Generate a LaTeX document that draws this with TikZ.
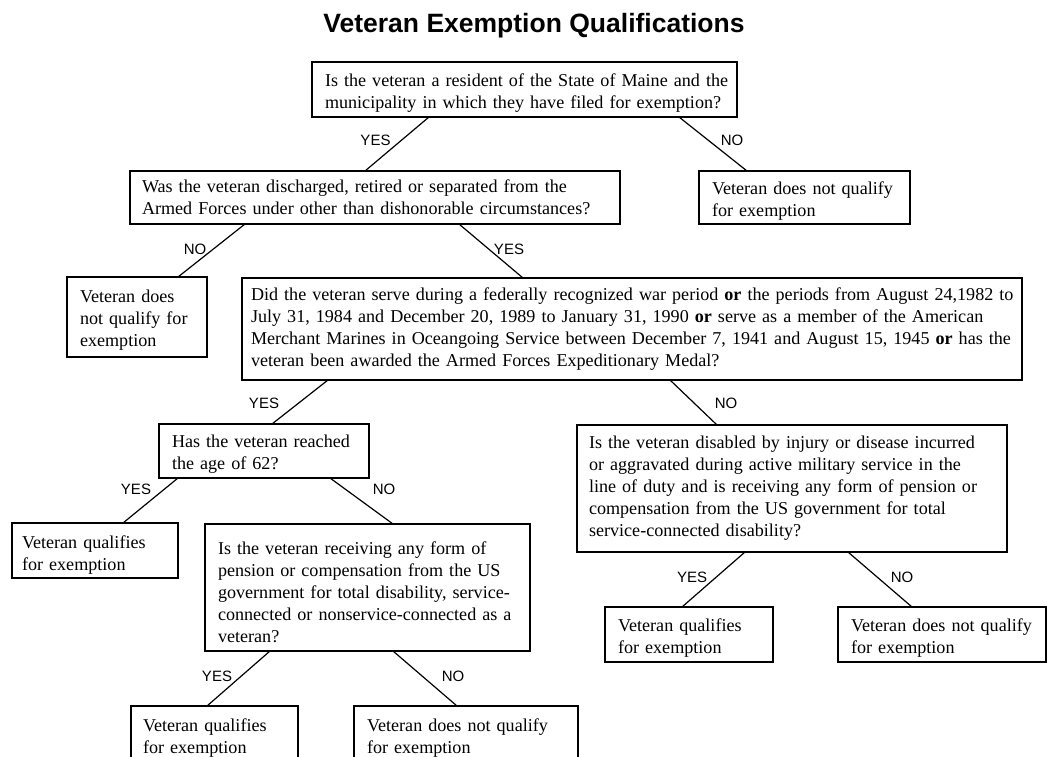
\documentclass[tikz,border=0pt]{standalone}
\usepackage{fontspec}
\setmainfont{Liberation Serif}
\newfontfamily\sansfont{Liberation Sans}
\newcommand\bxl[1]{\mbox{#1}}
\newcommand\dn[1]{\rule{0pt}{#1pt}}
\begin{document}
\begin{tikzpicture}[x=1pt,y=-1pt,
  box/.style 2 args={draw, line width=1.2pt, rectangle, anchor=north west, inner xsep=#1pt, inner ysep=0pt, outer sep=0pt, text width=#2pt, align=left, font=\fontsize{18.1}{22}\selectfont},
  lab/.style={font=\sansfont\fontsize{15}{15}\selectfont, inner sep=0pt},
  conn/.style={line width=1.2pt}]
\clip (0,0) rectangle (1049,757);
\fill[white] (0,0) rectangle (1049,757);

\node[font=\sansfont\bfseries\fontsize{26.5}{30}\selectfont, anchor=base, inner sep=0pt] (title) at (534,33) {Veteran Exemption Qualifications};

% boxes
\node[box={13}{399}, minimum height=55] (A) at (312,62)
 {\bxl{\dn{19}Is the veteran a resident of the State of Maine and the}\\ \bxl{municipality in which they have filed for exemption?}};
\node[box={12}{466}, minimum height=53] (B) at (130,171)
 {\bxl{Was the veteran discharged, retired or separated from the}\\ \bxl{Armed Forces under other than dishonorable circumstances?}};
\node[box={13}{185}, minimum height=53] (C) at (699,171)
 {\bxl{\dn{19}Veteran does not qualify}\\ \bxl{for exemption}};
\node[box={13}{114}, minimum height=80] (D) at (67,277)
 {\bxl{\dn{18}Veteran does}\\ \bxl{not qualify for}\\ \bxl{exemption}};
\node[box={9}{762}, minimum height=102] (E) at (242,278)
 {\bxl{Did the veteran serve during a federally recognized war period \textbf{or} the periods from August 24,1982 to}\\ \bxl{July 31, 1984 and December 20, 1989 to January 31, 1990 \textbf{or} serve as a member of the American}\\ \bxl{Merchant Marines in Oceangoing Service between December 7, 1941 and August 15, 1945 \textbf{or} has the}\\ \bxl{veteran been awarded the Armed Forces Expeditionary Medal?}};
\node[box={13}{184}, minimum height=54] (F) at (159,424)
 {\bxl{\dn{18}Has the veteran reached}\\ \bxl{the age of 62?}};
\node[box={12}{406}, minimum height=127] (G) at (577,425)
 {\bxl{Is the veteran disabled by injury or disease incurred}\\ \bxl{or aggravated during active military service in the}\\ \bxl{line of duty and is receiving any form of pension or}\\ \bxl{compensation from the US government for total}\\ \bxl{service-connected disability?}};
\node[box={10}{146}, minimum height=55] (H) at (12,523)
 {\bxl{\dn{21}Veteran qualifies}\\ \bxl{for exemption}};
\node[box={13}{299}, minimum height=127] (I) at (205,524)
 {\bxl{\dn{22}Is the veteran receiving any form of}\\ \bxl{pension or compensation from the US}\\ \bxl{government for total disability, service-}\\ \bxl{connected or nonservice-connected as a}\\ \bxl{veteran?}};
\node[box={13}{142}, minimum height=55] (M) at (605,607)
 {\bxl{\dn{20}Veteran qualifies}\\ \bxl{for exemption}};
\node[box={13}{182}, minimum height=55] (N) at (838,607)
 {\bxl{\dn{20}Veteran does not qualify}\\ \bxl{for exemption}};
\node[box={12}{143}, minimum height=55] (K) at (131,706)
 {\bxl{\dn{21}Veteran qualifies}\\ \bxl{for exemption}};
\node[box={13}{198}, minimum height=55] (L) at (354,706)
 {\bxl{\dn{21}Veteran does not qualify}\\ \bxl{for exemption}};

% connectors
\draw[conn] ([xshift=117pt]A.south west) -- ([xshift=235pt]B.north west);
\draw[conn] ([xshift=367pt]A.south west) -- ([xshift=48pt]C.north west);
\draw[conn] ([xshift=115pt]B.south west) -- ([xshift=111pt]D.north west);
\draw[conn] ([xshift=329pt]B.south west) -- ([xshift=281pt]E.north west);
\draw[conn] ([xshift=86pt]E.south west) -- ([xshift=113pt]F.north west);
\draw[conn] ([xshift=428pt]E.south west) -- ([xshift=140pt]G.north west);
\draw[conn] ([xshift=19pt]F.south west) -- ([xshift=111pt]H.north west);
\draw[conn] ([xshift=171pt]F.south west) -- ([xshift=188pt]I.north west);
\draw[conn] ([xshift=168pt]G.south west) -- ([xshift=77pt]M.north west);
\draw[conn] ([xshift=271pt]G.south west) -- ([xshift=74pt]N.north west);
\draw[conn] ([xshift=65pt]I.south west) -- ([xshift=76pt]K.north west);
\draw[conn] ([xshift=188pt]I.south west) -- ([xshift=103pt]L.north west);

% labels
\node[lab] (l1) at (375.5,140.5) {YES};
\node[lab] (l2) at (732,140.5) {NO};
\node[lab] (l3) at (195,249) {NO};
\node[lab] (l4) at (509,249) {YES};
\node[lab] (l5) at (264,403) {YES};
\node[lab] (l6) at (726,403) {NO};
\node[lab] (l7) at (136,489) {YES};
\node[lab] (l8) at (384,489) {NO};
\node[lab] (l9) at (692,577) {YES};
\node[lab] (l10) at (902,577) {NO};
\node[lab] (l11) at (217,676) {YES};
\node[lab] (l12) at (453,676) {NO};
\end{tikzpicture}
\end{document}
